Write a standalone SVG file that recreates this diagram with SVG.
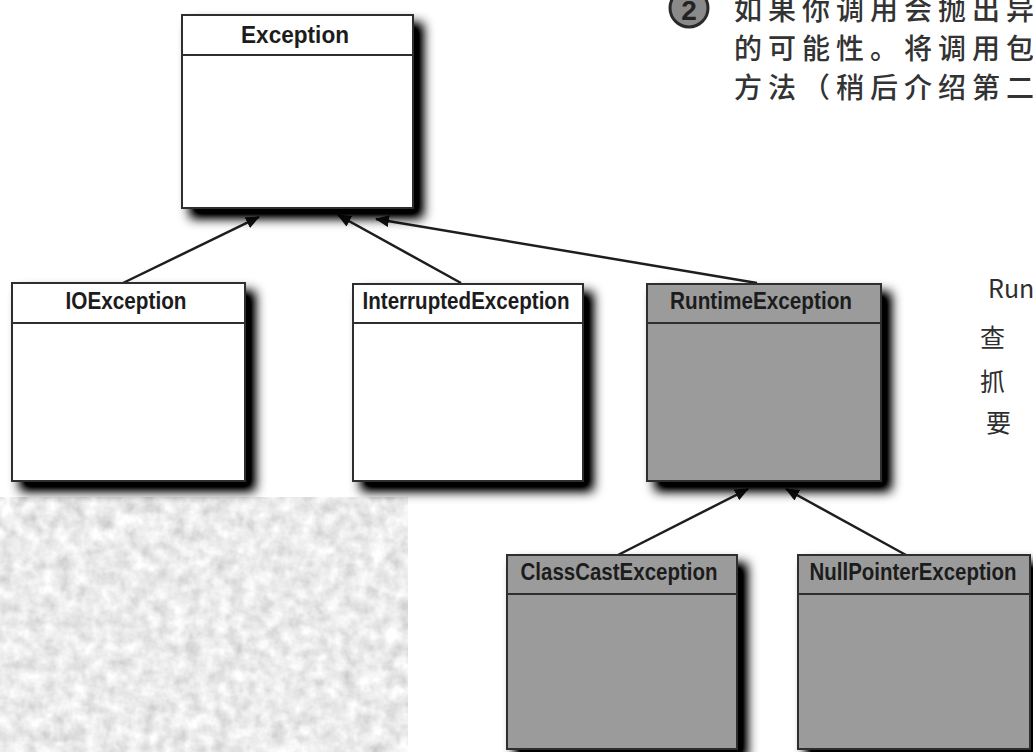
<svg xmlns="http://www.w3.org/2000/svg" width="1033" height="752" viewBox="0 0 1033 752">
<style>
.box{stroke:#2e2e2e;stroke-width:2}
.w{fill:#ffffff}
.g{fill:#9b9b9b}
.sep{stroke:#2e2e2e;stroke-width:2}
.lbl{font-family:"Liberation Sans",Arial,sans-serif;font-weight:bold;font-size:23px;fill:#1c1c1c;text-anchor:middle}
.edge{stroke:#1e1e1e;stroke-width:2.5;fill:none;marker-end:url(#ah)}
.cn{font-family:"Noto Sans CJK SC","Noto Sans",sans-serif;font-size:28px;font-weight:500;fill:#333333;letter-spacing:6px}
.hw{font-family:"Noto Sans CJK SC","DejaVu Sans",sans-serif;font-size:25px;fill:#2e2e2e}
</style>
<defs>
<marker id="ah" viewBox="0 0 14 12" refX="13" refY="6" markerWidth="14" markerHeight="12" markerUnits="userSpaceOnUse" orient="auto">
<path d="M0,0 L14,6 L0,12 Z" fill="#111"/>
</marker>
<filter id="sh" x="-10%" y="-10%" width="135%" height="135%">
<feGaussianBlur in="SourceAlpha" stdDeviation="6"/>
<feOffset dx="9" dy="9" result="o"/>
<feComponentTransfer in="o" result="s"><feFuncA type="linear" slope="1.3"/></feComponentTransfer>
<feMerge><feMergeNode in="s"/><feMergeNode in="SourceGraphic"/></feMerge>
</filter>
<filter id="grain" x="0" y="0" width="1" height="1">
<feTurbulence type="fractalNoise" baseFrequency="0.07" numOctaves="3" seed="5" result="t"/>
<feColorMatrix in="t" type="saturate" values="0" result="gr"/>
<feComponentTransfer in="gr">
<feFuncR type="linear" slope="0.75" intercept="0.46"/>
<feFuncG type="linear" slope="0.75" intercept="0.46"/>
<feFuncB type="linear" slope="0.75" intercept="0.46"/>
<feFuncA type="linear" slope="0" intercept="1"/>
</feComponentTransfer>
</filter>
</defs>
<rect x="0" y="0" width="1033" height="752" fill="#ffffff"/>
<rect x="0" y="497" width="408" height="255" fill="#d8d8d8" filter="url(#grain)"/>

<g id="caption">
<circle cx="689" cy="8" r="19" fill="#8a8a8a" stroke="#2a2a2a" stroke-width="3"/>
<text x="689" y="20" font-family="Liberation Sans,Arial,sans-serif" font-weight="bold" font-size="28" fill="#222" text-anchor="middle">2</text>
<text class="cn" x="734" y="20">如果你调用会抛出异</text>
<text class="cn" x="734" y="59">的可能性。将调用包</text>
<text class="cn" x="734" y="98">方法（稍后介绍第二</text>
</g>

<g id="note">
<text class="hw" x="988" y="298">Run</text>
<text class="hw" x="980" y="347">查</text>
<text class="hw" x="980" y="391">抓</text>
<text class="hw" x="986" y="432">要</text>
</g>

<g id="connectors">
<line class="edge" x1="123" y1="283" x2="259" y2="217"/>
<line class="edge" x1="461" y1="283" x2="338" y2="215"/>
<line class="edge" x1="757" y1="283" x2="376" y2="219"/>
<line class="edge" x1="618" y1="555" x2="748" y2="489"/>
<line class="edge" x1="906" y1="555" x2="786" y2="489"/>
</g>

<g id="n-exception">
<rect class="box w" x="182" y="15" width="231" height="193" filter="url(#sh)"/>
<line class="sep" x1="182" y1="55" x2="413" y2="55"/>
<text class="lbl" x="295" y="43" textLength="108" lengthAdjust="spacingAndGlyphs">Exception</text>
</g>

<g id="n-ioexception">
<rect class="box w" x="12" y="283" width="233" height="198" filter="url(#sh)"/>
<line class="sep" x1="12" y1="323" x2="245" y2="323"/>
<text class="lbl" x="126" y="309" textLength="121" lengthAdjust="spacingAndGlyphs">IOException</text>
</g>

<g id="n-interrupted">
<rect class="box w" x="353" y="284" width="230" height="197" filter="url(#sh)"/>
<line class="sep" x1="353" y1="323" x2="583" y2="323"/>
<text class="lbl" x="466" y="309" textLength="207" lengthAdjust="spacingAndGlyphs">InterruptedException</text>
</g>

<g id="n-runtime">
<rect class="box g" x="647" y="284" width="234" height="197" filter="url(#sh)"/>
<line class="sep" x1="647" y1="323" x2="881" y2="323"/>
<text class="lbl" x="761" y="309" textLength="182" lengthAdjust="spacingAndGlyphs">RuntimeException</text>
</g>

<g id="n-classcast">
<rect class="box g" x="507" y="555" width="230" height="194" filter="url(#sh)"/>
<line class="sep" x1="507" y1="594" x2="737" y2="594"/>
<text class="lbl" x="619" y="580" textLength="197" lengthAdjust="spacingAndGlyphs">ClassCastException</text>
</g>

<g id="n-nullpointer">
<rect class="box g" x="798" y="555" width="232" height="194" filter="url(#sh)"/>
<line class="sep" x1="798" y1="594" x2="1030" y2="594"/>
<text class="lbl" x="913" y="580" textLength="207" lengthAdjust="spacingAndGlyphs">NullPointerException</text>
</g>
</svg>
